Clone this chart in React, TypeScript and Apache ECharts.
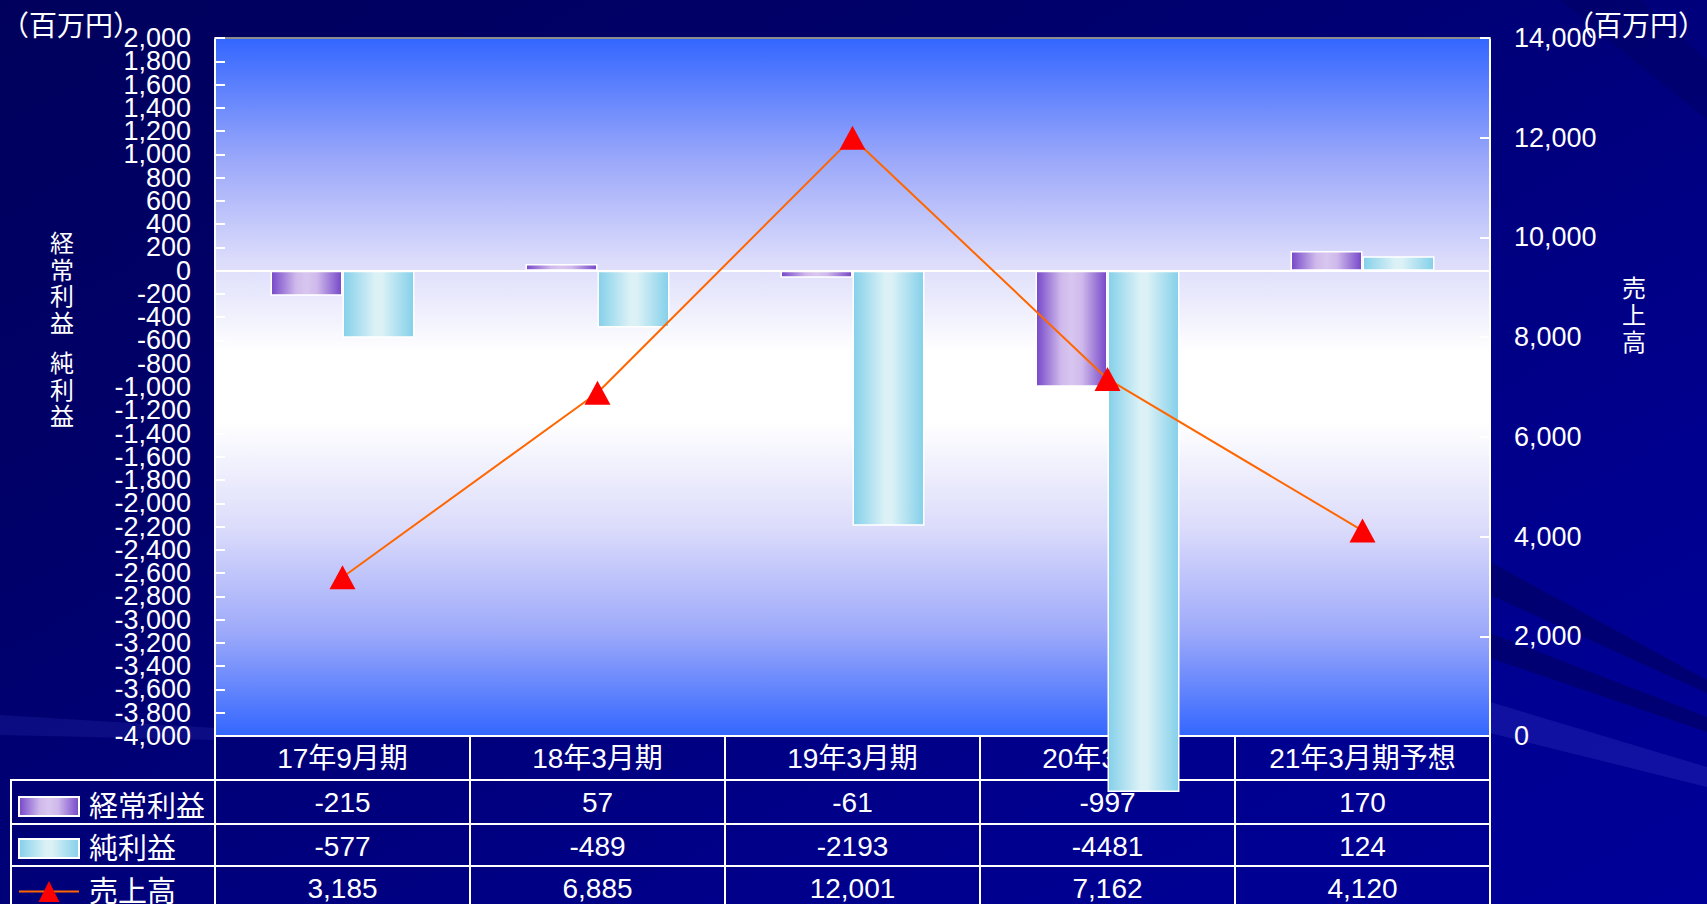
import React, { useEffect, useRef } from "react";
import * as echarts from "echarts";

const categories = ["17年9月期", "18年3月期", "19年3月期", "20年3月期", "21年3月期予想"];
const ordinaryProfit = [-215, 57, -61, -997, 170];
const netProfit = [-577, -489, -2193, -4481, 124];
const sales = [3185, 6885, 12001, 7162, 4120];
const seriesNames = ["経常利益", "純利益", "売上高"];
const leftTicks = [
  -4000, -3800, -3600, -3400, -3200, -3000, -2800, -2600, -2400, -2200, -2000, -1800, -1600, -1400, -1200, -1000,
  -800, -600, -400, -200, 0, 200, 400, 600, 800, 1000, 1200, 1400, 1600, 1800, 2000,
];
const leftTitleParts = ["経常利益", "純利益"];
const rightTitle = "売上高";
const unitLabel = "（百万円）";

const FONT = "'Liberation Sans', Arial, 'Noto Sans CJK JP', sans-serif";
const W = 1707;
const H = 904;
const GL = 215;
const GR = 1490;
const GT = 38;
const GB = 736;
const ROW = [0, 44, 88, 130];
const LEGEND_TOP = [792, 834, 877];

const fmt = (v: number) => v.toLocaleString("en-US");

const streaks = [
  { poly: "polygon(1490px 562px, 1707px 680px, 1707px 693px, 1490px 595px)", color: "rgba(0,0,90,0.55)" },
  { poly: "polygon(1490px 633px, 1707px 717px, 1707px 732px, 1490px 658px)", color: "rgba(0,0,90,0.55)" },
  { poly: "polygon(1490px 702px, 1707px 767px, 1707px 787px, 1490px 733px)", color: "rgba(50,50,190,0.35)" },
  { poly: "polygon(0px 715px, 215px 728px, 215px 740px, 0px 735px)", color: "rgba(40,40,170,0.3)" },
  { poly: "polygon(1560px 0px, 1640px 0px, 1707px 60px, 1707px 120px)", color: "rgba(0,0,90,0.35)" },
];

export default function App() {
  const ref = useRef<HTMLDivElement>(null);
  useEffect(() => {
    if (!ref.current) return;
    const chart = echarts.init(ref.current, undefined, { renderer: "svg" });
    const purple = new echarts.graphic.LinearGradient(0, 0, 1, 0, [
      { offset: 0, color: "#7647c9" },
      { offset: 0.35, color: "#cfb9eb" },
      { offset: 0.5, color: "#d8c6ef" },
      { offset: 0.65, color: "#cfb9eb" },
      { offset: 1, color: "#7647c9" },
    ]);
    const cyan = new echarts.graphic.LinearGradient(0, 0, 1, 0, [
      { offset: 0, color: "#84d0ea" },
      { offset: 0.45, color: "#dbf1f6" },
      { offset: 0.55, color: "#dbf1f6" },
      { offset: 1, color: "#84d0ea" },
    ]);
    const plotBg = new echarts.graphic.LinearGradient(0, 0, 0, 1, [
      { offset: 0, color: "#3366ff" },
      { offset: 0.18, color: "#9eaafa" },
      { offset: 0.32, color: "#dcdcfb" },
      { offset: 0.45, color: "#ffffff" },
      { offset: 0.55, color: "#ffffff" },
      { offset: 0.7, color: "#dcdcfb" },
      { offset: 0.85, color: "#9eaafa" },
      { offset: 1, color: "#3366ff" },
    ]);
    const labelBase = { color: "#ffffff", fontSize: 27, fontFamily: FONT };
    const rowValues = [
      null,
      ordinaryProfit.map((v) => String(v)),
      netProfit.map((v) => String(v)),
      sales.map((v) => fmt(v)),
    ];
    const tableAxes = ROW.map((off, k) => ({
      type: "category",
      data: categories,
      position: "bottom",
      offset: off,
      gridIndex: 0,
      axisLine: { show: true, onZero: false, lineStyle: { color: "#ffffff", width: 2 } },
      axisTick: { show: true, interval: 0, length: 44, inside: false, lineStyle: { color: "#ffffff", width: 2 } },
      axisLabel: {
        ...labelBase,
        fontSize: 28,
        interval: 0,
        margin: 22,
        verticalAlign: "middle",
        formatter: (v: string, i: number) => (k === 0 ? v : (rowValues[k] as string[])[i]),
      },
      splitLine: { show: false },
    }));
    const topAxis = {
      type: "category",
      data: categories,
      position: "top",
      axisLine: { show: true, onZero: false, lineStyle: { color: "#8c8c8c", width: 2 } },
      axisTick: { show: false },
      axisLabel: { show: false },
    };
    const legends = seriesNames.map((name, i) => ({
      orient: "vertical",
      left: 18,
      top: LEGEND_TOP[i],
      padding: 0,
      itemWidth: 60,
      itemHeight: i === 2 ? 26 : 19,
      icon: i === 2 ? undefined : "rect",
      textStyle: { color: "#ffffff", fontSize: 29, lineHeight: 29, fontFamily: FONT, padding: [0, 0, 0, 5] },
      data: [name],
    }));
    const option: any = {
      animation: false,
      backgroundColor: "transparent",
      grid: {
        left: GL,
        right: W - GR,
        top: GT,
        bottom: H - GB,
        show: true,
        backgroundColor: plotBg,
        borderWidth: 0,
      },
      legend: legends,
      xAxis: [...tableAxes, topAxis],
      yAxis: [
        {
          type: "value",
          min: -4000,
          max: 2000,
          interval: 200,
          position: "left",
          axisLine: { show: true, lineStyle: { color: "#ffffff", width: 2 } },
          axisTick: { show: true, inside: true, length: 10, lineStyle: { color: "#ffffff", width: 2 } },
          axisLabel: { show: false },
          splitLine: { show: false },
        },
        {
          type: "value",
          min: 0,
          max: 14000,
          interval: 2000,
          position: "right",
          axisLine: { show: true, lineStyle: { color: "#ffffff", width: 2 } },
          axisTick: { show: true, inside: true, length: 10, lineStyle: { color: "#ffffff", width: 2 } },
          axisLabel: { ...labelBase, margin: 24, showMinLabel: true, showMaxLabel: true, formatter: (v: number) => fmt(v) },
          splitLine: { show: false },
        },
        {
          type: "category",
          position: "left",
          boundaryGap: false,
          data: leftTicks.map((v) => fmt(v)),
          axisLine: { show: false },
          axisTick: { show: false },
          axisLabel: { ...labelBase, interval: 0, margin: 24 },
          splitLine: { show: false },
        },
      ],
      series: [
        {
          name: seriesNames[0],
          type: "bar",
          xAxisIndex: 0,
          yAxisIndex: 0,
          data: ordinaryProfit,
          barWidth: 72,
          barGap: "0%",
          clip: false,
          itemStyle: { color: purple, borderColor: "#ffffff", borderWidth: 1.5 },
          markLine: {
            silent: true,
            symbol: "none",
            label: { show: false },
            lineStyle: { color: "#ffffff", width: 2, type: "solid" },
            data: [{ yAxis: 0 }],
          },
        },
        {
          name: seriesNames[1],
          type: "bar",
          xAxisIndex: 0,
          yAxisIndex: 0,
          data: netProfit,
          barWidth: 72,
          barGap: "0%",
          clip: false,
          itemStyle: { color: cyan, borderColor: "#ffffff", borderWidth: 1.5 },
        },
        {
          name: seriesNames[2],
          type: "line",
          xAxisIndex: 0,
          yAxisIndex: 1,
          data: sales,
          z: 5,
          symbol: "triangle",
          symbolSize: [26, 24],
          lineStyle: { color: "#ff6600", width: 2 },
          itemStyle: { color: "#ff0000" },
        },
      ],
      graphic: [
        {
          type: "rect",
          silent: true,
          shape: { x: 11, y: GB + ROW[1], width: GL - 11, height: 200 },
          style: { fill: "none", stroke: "#ffffff", lineWidth: 2 },
        },
        {
          type: "line",
          silent: true,
          shape: { x1: 11, y1: GB + ROW[2], x2: GL, y2: GB + ROW[2] },
          style: { stroke: "#ffffff", lineWidth: 2 },
        },
        {
          type: "line",
          silent: true,
          shape: { x1: 11, y1: GB + ROW[3], x2: GL, y2: GB + ROW[3] },
          style: { stroke: "#ffffff", lineWidth: 2 },
        },
        {
          type: "text",
          silent: true,
          x: 1,
          y: 26,
          style: { text: unitLabel, fill: "#ffffff", fontSize: 28, fontFamily: FONT, verticalAlign: "middle" },
        },
        {
          type: "text",
          silent: true,
          x: 1566,
          y: 26,
          style: { text: unitLabel, fill: "#ffffff", fontSize: 28, fontFamily: FONT, verticalAlign: "middle" },
        },
        {
          type: "text",
          silent: true,
          x: 62,
          y: 230,
          style: {
            text: leftTitleParts[0].split("").join("\n"),
            fill: "#ffffff",
            fontSize: 24,
            lineHeight: 26.7,
            fontFamily: FONT,
            align: "center",
          },
        },
        {
          type: "text",
          silent: true,
          x: 62,
          y: 350,
          style: {
            text: leftTitleParts[1].split("").join("\n"),
            fill: "#ffffff",
            fontSize: 24,
            lineHeight: 26.7,
            fontFamily: FONT,
            align: "center",
          },
        },
        {
          type: "text",
          silent: true,
          x: 1634,
          y: 275,
          style: {
            text: rightTitle.split("").join("\n"),
            fill: "#ffffff",
            fontSize: 24,
            lineHeight: 27,
            fontFamily: FONT,
            align: "center",
          },
        },
      ],
    };
    chart.setOption(option);
    return () => chart.dispose();
  }, []);
  return (
    <div
      style={{
        position: "fixed",
        left: 0,
        top: 0,
        width: W,
        height: H,
        background: "linear-gradient(150deg, #00005c 0%, #00006a 30%, #00007e 55%, #00008e 75%, #000098 100%)",
      }}
    >
      {streaks.map((s, i) => (
        <div
          key={i}
          style={{ position: "absolute", left: 0, top: 0, width: W, height: H, background: s.color, clipPath: s.poly }}
        />
      ))}
      <div ref={ref} style={{ position: "absolute", left: 0, top: 0, width: W, height: H }} />
    </div>
  );
}
